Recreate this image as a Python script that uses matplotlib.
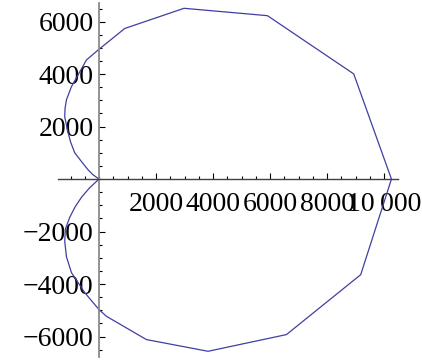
import numpy as np
import matplotlib.pyplot as plt
from matplotlib.ticker import MultipleLocator, FixedLocator

plt.rcParams['font.family'] = ['Liberation Serif', 'DejaVu Serif']

# Closed curve, upper half then lower half
x_upper = [0, -211, -386, -618, -853, -1004, -1109, -1204, -1192, -1144, -968, -737, -442, 0,
           902, 2982, 5909, 8937, 10260]
y_upper = [0, 164, 354, 671, 1001, 1431, 1877, 2372, 2703, 3019, 3525, 3970, 4541, 4949,
           5740, 6509, 6228, 4008, 0]
x_lower = [10260, 9182, 6575, 3825, 1663, 260, 0, -502, -968, -1144, -1204, -1180, -1028,
           -840, -618, -330, 0]
y_lower = [0, -3643, -5927, -6563, -6117, -5230, -4975, -4328, -3567, -2958, -2371, -1900,
           -1458, -1060, -697, -330, 0]

x_ticks = [2000, 4000, 6000, 8000, 10000]
x_labels = ['2000', '4000', '6000', '8000', '10\u2009000']
y_ticks = [-6000, -4000, -2000, 2000, 4000, 6000]

fig = plt.figure(figsize=(4.22, 3.60), dpi=100)
ax = fig.add_axes([58 / 422, 3 / 360, 340 / 422, 354 / 360])

ax.plot(x_upper + x_lower[1:], y_upper + y_lower[1:], color='#3f3f9f', lw=0.9)

ax.set_xlim(-1440, 10490)
ax.set_ylim(-6781, 6711)

# axes crossing at the origin
ax.spines['left'].set_position(('data', 0))
ax.spines['bottom'].set_position(('data', 0))
ax.spines['right'].set_visible(False)
ax.spines['top'].set_visible(False)
ax.spines['left'].set_color('#8a8a8a')
ax.spines['left'].set_linewidth(1.3)
ax.spines['bottom'].set_color('#4a3a4a')
ax.spines['bottom'].set_linewidth(1.0)

ax.xaxis.set_major_locator(FixedLocator(x_ticks))
ax.set_xticklabels(x_labels)
ax.xaxis.set_minor_locator(MultipleLocator(500))
ax.yaxis.set_major_locator(FixedLocator(y_ticks))
ax.yaxis.set_minor_locator(MultipleLocator(500))

ax.tick_params(which='both', direction='in', color='black', width=0.8,
               labelsize=20)
ax.tick_params(which='major', length=4.3)
ax.tick_params(which='minor', length=2.3)
ax.tick_params(axis='x', pad=9)
ax.tick_params(axis='y', pad=4)

fig.savefig('out.png', dpi=100)
